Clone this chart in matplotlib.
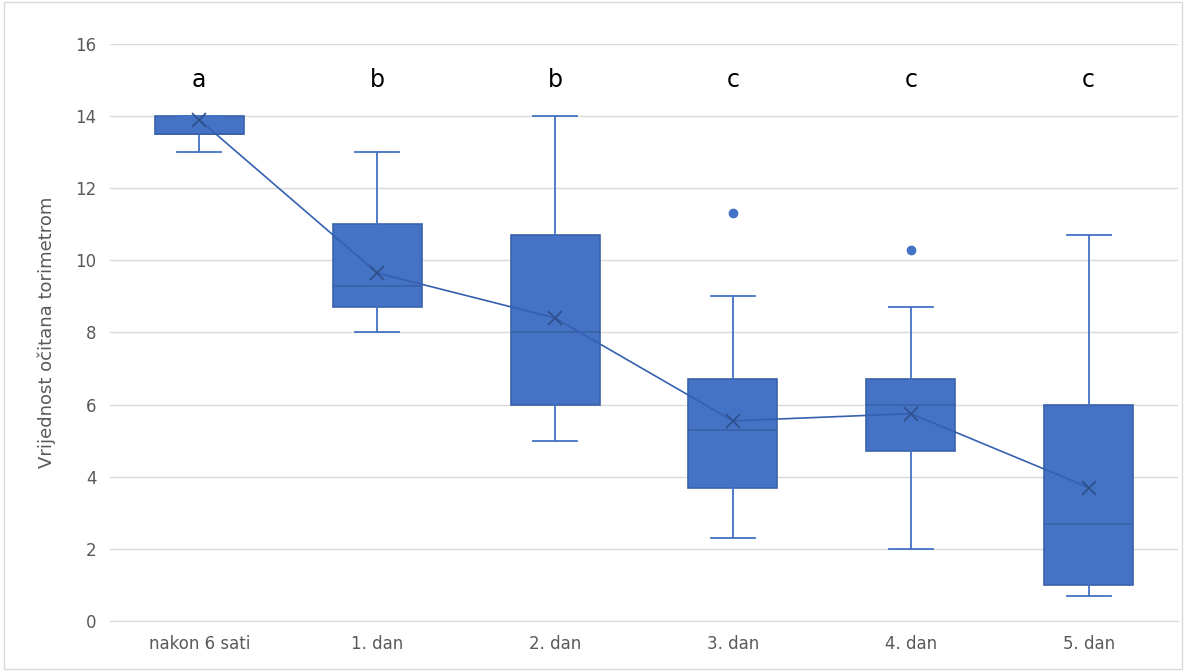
import matplotlib.pyplot as plt
from matplotlib.patches import Rectangle

categories = ['nakon 6 sati', '1. dan', '2. dan', '3. dan', '4. dan', '5. dan']
whislo = [13, 8, 5, 2.3, 2, 0.7]
q1 = [13.5, 8.7, 6, 3.7, 4.7, 1]
med = [13.5, 9.3, 8, 5.3, 6, 2.7]
q3 = [14, 11, 10.7, 6.7, 6.7, 6]
whishi = [14, 13, 14, 9, 8.7, 10.7]
means = [13.9, 9.65, 8.4, 5.55, 5.75, 3.7]
fliers = [[], [], [], [11.3], [10.3], []]
letters = ['a', 'b', 'b', 'c', 'c', 'c']

blue = '#4472C4'
edge = '#3A62AA'

fig = plt.figure(figsize=(11.86, 6.71), dpi=100)
ax = fig.add_axes([0.093, 0.0745, 0.9, 0.86])
fig.patches.append(Rectangle((0.003, 0.003), 0.994, 0.994, transform=fig.transFigure,
                             fill=False, edgecolor='#d9d9d9', lw=1))

stats = []
for i in range(len(categories)):
    stats.append(dict(whislo=whislo[i], q1=q1[i], med=med[i], q3=q3[i],
                      whishi=whishi[i], fliers=fliers[i], label=categories[i]))
pos = list(range(1, len(categories) + 1))
ax.bxp(stats, positions=pos, widths=0.5, patch_artist=True, showcaps=True,
       boxprops=dict(facecolor=blue, edgecolor=edge, lw=1.2),
       medianprops=dict(color=edge, lw=1.2),
       whiskerprops=dict(color=blue, lw=1.3),
       capprops=dict(color=blue, lw=1.3),
       flierprops=dict(marker='o', markerfacecolor=blue, markeredgecolor=blue, markersize=6))
ax.plot(pos, means, color='#3560B0', lw=1.2, marker='x', markersize=10,
        markeredgecolor='#2F4F8A', markeredgewidth=1.2, zorder=5)

for p, t in zip(pos, letters):
    ax.text(p, 15.0, t, ha='center', va='center', fontsize=17, color='black')

ax.set_ylim(0, 16)
ax.set_xlim(0.5, 6.5)
ax.set_yticks(range(0, 17, 2))
ax.yaxis.grid(True, color='#d9d9d9', lw=1)
ax.set_axisbelow(True)
for s in ['top', 'right', 'left']:
    ax.spines[s].set_visible(False)
ax.spines['bottom'].set_color('#d9d9d9')
ax.tick_params(axis='both', length=0, labelsize=12, labelcolor='#595959', pad=10)
ax.set_ylabel('Vrijednost očitana torimetrom', fontsize=13, color='#595959', labelpad=14)

fig.savefig('out.png', dpi=100)
